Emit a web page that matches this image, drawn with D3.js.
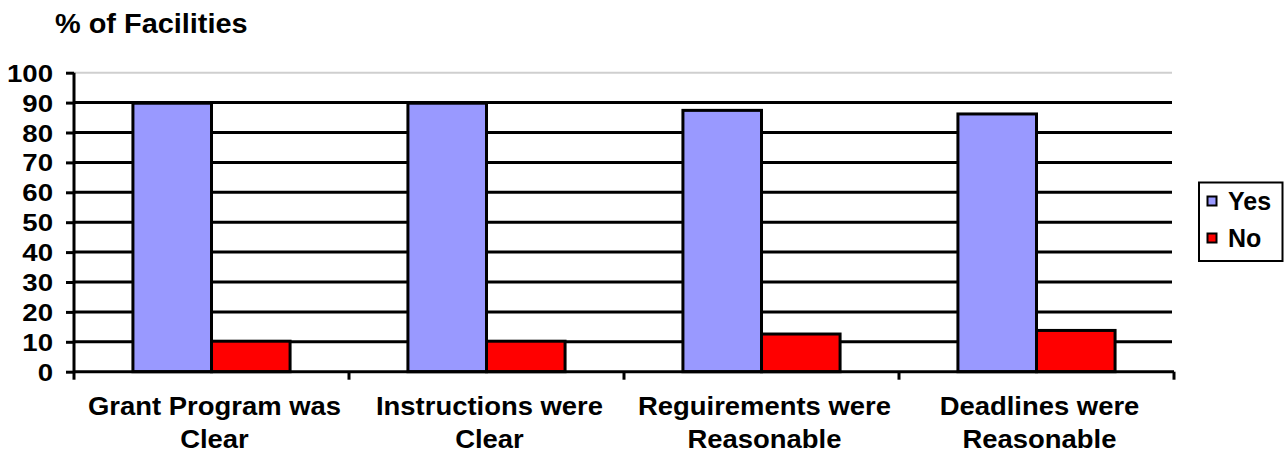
<!DOCTYPE html>
<html>
<head>
<meta charset="utf-8">
<script src="https://cdn.jsdelivr.net/npm/d3@7"></script>
<style>
  html, body { margin: 0; padding: 0; background: #fff; }
  svg { display: block; }
  text { font-family: "Liberation Sans", Arial, sans-serif; font-weight: bold; fill: #000; }
</style>
</head>
<body>
<svg id="chart" width="1286" height="454"></svg>
<script>
// Survey responses per question, percent of facilities
const categories = [
  ["Grant Program was", "Clear"],
  ["Instructions were", "Clear"],
  ["Reguirements were", "Reasonable"],
  ["Deadlines were", "Reasonable"]
];
const seriesNames = ["Yes", "No"];
const yesValues = [89.8, 89.8, 87.4, 86.2];
const noValues = [10.2, 10.2, 12.6, 13.8];
const yTicks = [0, 10, 20, 30, 40, 50, 60, 70, 80, 90, 100];
const colors = ["#9999FF", "#FF0000"];

const rows = categories.map((c, i) => ({ key: c.join(" "), lines: c, values: [yesValues[i], noValues[i]] }));

const svg = d3.select("#chart");
const plotLeft = 74, plotRight = 1174, plotTop = 72.7, plotBottom = 371.7;

const x0 = d3.scaleBand().domain(rows.map(d => d.key)).range([plotLeft, plotRight]).padding(0);
const x1 = d3.scaleBand().domain(seriesNames).range([0, x0.bandwidth()]).paddingInner(0).paddingOuter(0.75);
const y = d3.scaleLinear().domain([0, 100]).range([plotBottom, plotTop]);

// Plot area top edge
svg.append("line")
  .attr("x1", plotLeft).attr("x2", plotRight - 2)
  .attr("y1", y(100)).attr("y2", y(100))
  .attr("stroke", "#cfcfcf").attr("stroke-width", 2);

// Major gridlines
svg.append("g").selectAll("line")
  .data(yTicks.filter(t => t > 0 && t < 100))
  .join("line")
  .attr("x1", plotLeft).attr("x2", plotRight - 2)
  .attr("y1", d => y(d)).attr("y2", d => y(d))
  .attr("stroke", "#000").attr("stroke-width", 3);

// Bars
const groups = svg.append("g").selectAll("g")
  .data(rows).join("g")
  .attr("transform", d => `translate(${x0(d.key)},0)`);

groups.selectAll("rect")
  .data(d => d.values.map((v, i) => ({ name: seriesNames[i], value: v, i })))
  .join("rect")
  .attr("x", d => x1(d.name))
  .attr("y", d => y(d.value))
  .attr("width", x1.bandwidth())
  .attr("height", d => y(0) - y(d.value))
  .attr("fill", d => colors[d.i])
  .attr("stroke", "#000").attr("stroke-width", 3);

// Y axis
const yAxis = d3.axisLeft(y).tickValues(yTicks).tickSize(8).tickPadding(0).tickFormat(d3.format("d"));
const gy = svg.append("g").attr("transform", `translate(${plotLeft},0)`).call(yAxis);
gy.select(".domain").attr("stroke", "#000").attr("stroke-width", 3).attr("d", `M0,${plotTop}V${plotBottom}`);
gy.selectAll(".tick line").attr("stroke", "#000").attr("stroke-width", 3);
gy.selectAll(".tick text").remove();
gy.selectAll(".tick").append("text")
  .attr("text-anchor", "end")
  .attr("font-size", 24)
  .attr("transform", "translate(-21,8.5) scale(1.15,1)")
  .text(d => d);

// X axis with category separators
const gx = svg.append("g").attr("transform", `translate(0,${plotBottom})`);
gx.append("line").attr("x1", plotLeft).attr("x2", plotRight)
  .attr("stroke", "#000").attr("stroke-width", 3);
gx.selectAll("line.sep")
  .data(rows.map(d => x0(d.key) + x0.bandwidth()).concat([plotLeft]))
  .join("line").attr("class", "sep")
  .attr("x1", d => d).attr("x2", d => d)
  .attr("y1", 0).attr("y2", 8)
  .attr("stroke", "#000").attr("stroke-width", 3);

// Category labels, two lines each
const labels = gx.selectAll("g.lab").data(rows).join("g").attr("class", "lab")
  .attr("transform", d => `translate(${x0(d.key) + x0.bandwidth() / 2 + 3},0)`);
labels.selectAll("text")
  .data(d => d.lines)
  .join("text")
  .attr("text-anchor", "middle")
  .attr("font-size", 26)
  .attr("transform", (d, i) => `translate(0,${43.5 + i * 33}) scale(1.055,1)`)
  .text(d => d);

// Axis title
svg.append("text")
  .attr("font-size", 27)
  .attr("transform", "translate(55,33) scale(1.07,1)")
  .text("% of Facilities");

// Legend
const legend = svg.append("g").attr("transform", "translate(1199,182.5)");
legend.append("rect").attr("width", 83.5).attr("height", 78.5)
  .attr("fill", "#fff").attr("stroke", "#000").attr("stroke-width", 2);
const items = legend.selectAll("g").data(seriesNames).join("g")
  .attr("transform", (d, i) => `translate(0,${14 + i * 37})`);
items.append("rect").attr("x", 8.5).attr("width", 9).attr("height", 9)
  .attr("fill", (d, i) => colors[i]).attr("stroke", "#000").attr("stroke-width", 2);
items.append("text").attr("x", 29).attr("y", 13.5).attr("font-size", 25).text(d => d);
</script>
</body>
</html>
